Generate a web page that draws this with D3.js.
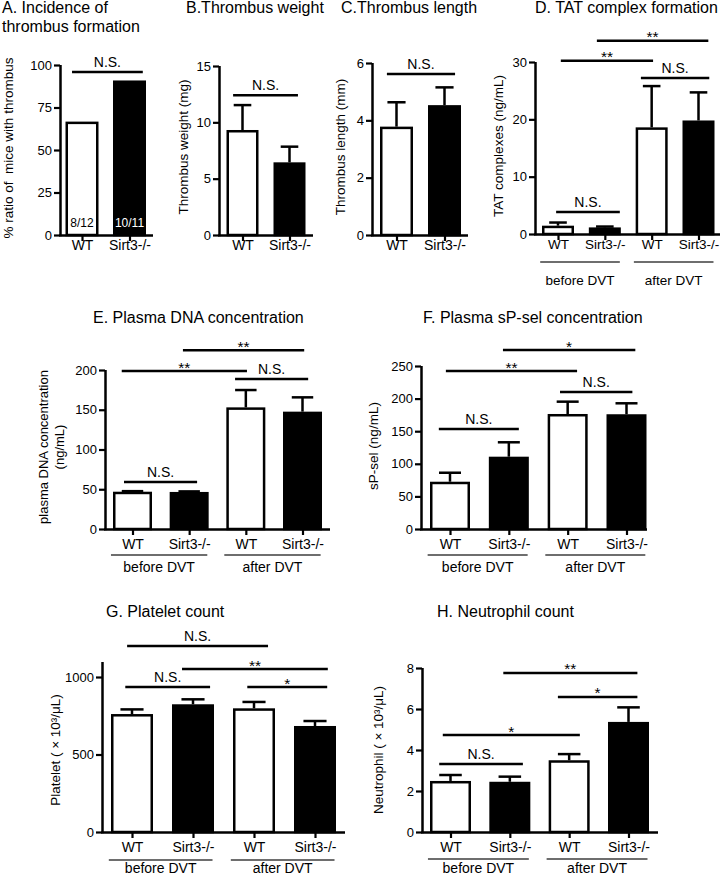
<!DOCTYPE html>
<html><head><meta charset="utf-8">
<script src="https://cdn.jsdelivr.net/npm/d3@7"></script>
<style>
body{margin:0;background:#fff}
svg{display:block}
text{font-family:"Liberation Sans",Arial,Helvetica,sans-serif;fill:#000}
</style>
</head><body>
<svg id="chart" width="721" height="875"></svg>
<script>
// ---------------- data ----------------
const catsTwo = ["WT", "Sirt3-/-"];
const catsFour = ["WT", "Sirt3-/-", "WT", "Sirt3-/-"];
const groupNames = ["before DVT", "after DVT"];

const incidence = [66.7, 90.9];
const incidenceLabels = ["8/12", "10/11"];
const weightMean = [9.32, 6.45];
const weightErr = [11.53, 7.84];
const lengthMean = [3.78, 4.53];
const lengthErr = [4.63, 5.15];
const tatMean = [1.45, 1.15, 18.6, 19.8];
const tatErr = [2.0, 1.3, 25.8, 24.7];
const dnaMean = [46.9, 46.6, 153, 147.6];
const dnaErr = [47.6, 47.3, 174.8, 165.6];
const pselMean = [72.5, 110.9, 176.4, 176];
const pselErr = [86.3, 133, 195.3, 192.8];
const plateletMean = [761, 824, 798, 684];
const plateletErr = [791, 856, 839, 716];
const neutroMean = [2.49, 2.45, 3.50, 5.37];
const neutroErr = [2.78, 2.70, 3.80, 6.08];

// significance brackets: [from category index, to category index, height (data units), label]
const sigA = [[-0.21, 1.28, 95.9, "N.S."]];
const sigB = [[-0.2, 1.18, 12.4, "N.S."]];
const sigC = [[-0.2, 1.22, 5.62, "N.S."]];
const sigD = [[0.83, 3.21, 33.7, "**"], [0.06, 2.03, 30.2, "**"], [1.77, 3.23, 27.2, "N.S."], [-0.04, 1.32, 3.84, "N.S."]];
const sigE = [[0.89, 3.03, 225, "**"], [-0.19, 2.02, 198.7, "**"], [1.81, 3.1, 188.7, "N.S."], [-0.15, 1.14, 59.1, "N.S."]];
const sigF = [[0.9, 3.15, 274.5, "*"], [-0.07, 2.16, 242.3, "**"], [1.87, 3.1, 210, "N.S."], [-0.19, 1.17, 153.4, "N.S."]];
const sigG = [[-0.08, 2.23, 1200, "N.S."], [0.82, 3.21, 1051.6, "**"], [-0.11, 1.28, 935.5, "N.S."], [1.89, 3.2, 935.5, "*"]];
const sigH = [[0.89, 3.15, 7.76, "**"], [1.81, 3.15, 6.59, "*"], [-0.13, 2.18, 4.73, "*"], [-0.19, 1.22, 3.32, "N.S."]];

const ticksA = [0, 25, 50, 75, 100];
const ticksB = [0, 5, 10, 15];
const ticksC = [0, 2, 4, 6];
const ticksD = [0, 10, 20, 30];
const ticksE = [0, 50, 100, 150, 200];
const ticksF = [0, 50, 100, 150, 200, 250];
const ticksG = [0, 500, 1000];
const ticksH = [0, 2, 4, 6, 8];

// ---------------- drawing ----------------
const svg = d3.select("#chart");
const FONT = '"Liberation Sans",Arial,Helvetica,sans-serif';
const SW = 2.5;

function panel(L, D) {
  const g = svg.append("g");
  const n = D.cats.length;
  const y = d3.scaleLinear().domain([0, L.yMax]).range([L.y0, L.yTop]);
  const x = d3.scaleLinear().domain([0, n - 1]).range([L.c0, L.cN]);
  const w = L.barW;

  // bars
  g.selectAll("rect.bar").data(D.mean).join("rect")
    .attr("x", (d, i) => x(i) - w / 2 + SW / 2)
    .attr("y", d => y(d) + SW / 2)
    .attr("width", w - SW)
    .attr("height", d => Math.max(0, y(0) - y(d) - SW / 2))
    .attr("fill", (d, i) => i % 2 ? "#000" : "#fff")
    .attr("stroke", "#000").attr("stroke-width", SW);

  // error bars (upper only)
  if (D.err) {
    const cw = w * 0.55;
    g.selectAll("line.ev").data(D.err).join("line")
      .attr("x1", (d, i) => x(i)).attr("x2", (d, i) => x(i))
      .attr("y1", (d, i) => y(D.mean[i])).attr("y2", d => y(d))
      .attr("stroke", "#000").attr("stroke-width", SW);
    g.selectAll("line.ec").data(D.err).join("line")
      .attr("x1", (d, i) => x(i) - cw / 2).attr("x2", (d, i) => x(i) + cw / 2)
      .attr("y1", d => y(d)).attr("y2", d => y(d))
      .attr("stroke", "#000").attr("stroke-width", SW);
  }

  // y axis
  const ya = g.append("g").attr("transform", `translate(${L.axisX},0)`)
    .call(d3.axisLeft(y).tickValues(D.ticks).tickSize(6).tickSizeOuter(0).tickPadding(2).tickFormat(d3.format("d")));
  ya.attr("font-family", FONT).attr("font-size", L.tickFont);
  ya.select(".domain").attr("stroke-width", SW).attr("d", `M0.5,${L.y0 + SW / 2}V${L.yTop}`);
  ya.selectAll(".tick line").attr("stroke-width", 2.2);
  ya.selectAll(".tick text").attr("fill", "#000");

  // x axis
  const xa = g.append("g").attr("transform", `translate(0,${L.y0})`)
    .call(d3.axisBottom(x).tickValues(d3.range(n)).tickSize(6).tickSizeOuter(0).tickFormat(i => D.cats[i]));
  xa.attr("font-family", FONT).attr("font-size", L.catFont);
  xa.select(".domain").attr("stroke-width", SW).attr("d", `M${L.axisX - 0.75},0.5H${L.xEnd}`);
  xa.selectAll(".tick line").attr("stroke-width", 2.2);
  xa.selectAll(".tick text").attr("y", L.catDy).attr("dy", 0).attr("fill", "#000");

  // group underlines and labels
  if (L.groupY) {
    const gr = g.selectAll("g.grp").data(groupNames).join("g");
    gr.append("line")
      .attr("x1", (d, k) => x(2 * k - 0.38)).attr("x2", (d, k) => x(2 * k + 1.32))
      .attr("y1", L.ulY).attr("y2", L.ulY)
      .attr("stroke", "#6e6e6e").attr("stroke-width", 2);
    gr.append("text")
      .attr("x", (d, k) => x(2 * k + 0.47)).attr("y", L.groupY)
      .attr("text-anchor", "middle").attr("font-size", L.catFont)
      .text(d => d);
  }

  // bar inner labels
  if (D.inner) {
    g.selectAll("text.inner").data(D.inner).join("text")
      .attr("x", (d, i) => x(i)).attr("y", L.y0 - 8)
      .attr("text-anchor", "middle").attr("font-size", 12)
      .style("fill", (d, i) => i % 2 ? "#fff" : "#000")
      .text(d => d);
  }

  // significance brackets
  const sg = g.selectAll("g.sig").data(D.sig).join("g");
  sg.append("line")
    .attr("x1", d => x(d[0])).attr("x2", d => x(d[1]))
    .attr("y1", d => y(d[2])).attr("y2", d => y(d[2]))
    .attr("stroke", "#000").attr("stroke-width", SW);
  sg.append("text")
    .attr("x", d => (x(d[0]) + x(d[1])) / 2)
    .attr("y", d => y(d[2]) - (d[3] === "N.S." ? 5 : -1.5))
    .attr("text-anchor", "middle").attr("font-size", d => d[3] === "N.S." ? 14 : 15.5)
    .text(d => d[3]);

  // title
  L.title.forEach((t, k) => {
    svg.append("text").attr("x", L.titleX).attr("y", L.titleY + k * 19)
      .attr("font-size", 16).text(t);
  });

  // y label
  L.ylab.forEach((t, k) => {
    svg.append("text")
      .attr("transform", `translate(${L.ylabX[k]},${L.ylabY}) rotate(-90)`)
      .attr("text-anchor", "middle").attr("dominant-baseline", "central")
      .attr("font-size", L.ylabFont).style("white-space", "pre")
      .text(t);
  });
}

panel({axisX: 60, xEnd: 153, y0: 235, yTop: 65, yMax: 100, c0: 82, cN: 129.5, barW: 33,
       tickFont: 13, catFont: 14, catDy: 15,
       title: ["A. Incidence of", "thrombus formation"], titleX: 2, titleY: 13,
       ylab: ["% ratio of  mice with thrombus"], ylabX: [8], ylabY: 148, ylabFont: 13.5},
      {cats: catsTwo, mean: incidence, err: null, inner: incidenceLabels, ticks: ticksA, sig: sigA});

panel({axisX: 219, xEnd: 313, y0: 235, yTop: 66, yMax: 15, c0: 242.5, cN: 289.5, barW: 32,
       tickFont: 13, catFont: 14, catDy: 15,
       title: ["B.Thrombus weight"], titleX: 186, titleY: 13,
       ylab: ["Thrombus weight (mg)"], ylabX: [183], ylabY: 147, ylabFont: 13.5},
      {cats: catsTwo, mean: weightMean, err: weightErr, ticks: ticksB, sig: sigB});

panel({axisX: 372, xEnd: 468, y0: 235, yTop: 63, yMax: 6, c0: 396.5, cN: 444.5, barW: 33,
       tickFont: 13, catFont: 14, catDy: 15,
       title: ["C.Thrombus length"], titleX: 341, titleY: 13,
       ylab: ["Thrombus length (mm)"], ylabX: [340], ylabY: 147, ylabFont: 13.5},
      {cats: catsTwo, mean: lengthMean, err: lengthErr, ticks: ticksC, sig: sigC});

panel({axisX: 535, xEnd: 720, y0: 234, yTop: 62, yMax: 30, c0: 558, cN: 698.5, barW: 32,
       tickFont: 13, catFont: 13.5, catDy: 15, ulY: 262, groupY: 285,
       title: ["D. TAT complex formation"], titleX: 535, titleY: 13,
       ylab: ["TAT complexes (ng/mL)"], ylabX: [498], ylabY: 146, ylabFont: 13.5},
      {cats: catsFour, mean: tatMean, err: tatErr, ticks: ticksD, sig: sigD});

panel({axisX: 105, xEnd: 330, y0: 529, yTop: 370, yMax: 200, c0: 132.5, cN: 302.5, barW: 39,
       tickFont: 13, catFont: 14, catDy: 20, ulY: 555, groupY: 572,
       title: ["E. Plasma DNA concentration"], titleX: 93, titleY: 323,
       ylab: ["plasma DNA concentration", "(ng/mL)"], ylabX: [43, 59], ylabY: 447, ylabFont: 13},
      {cats: catsFour, mean: dnaMean, err: dnaErr, ticks: ticksE, sig: sigE});

panel({axisX: 421, xEnd: 647, y0: 529, yTop: 366, yMax: 250, c0: 450, cN: 626.5, barW: 40,
       tickFont: 13, catFont: 14, catDy: 20, ulY: 555, groupY: 572,
       title: ["F. Plasma sP-sel concentration"], titleX: 423, titleY: 323,
       ylab: ["sP-sel (ng/mL)"], ylabX: [373], ylabY: 446, ylabFont: 13.5},
      {cats: catsFour, mean: pselMean, err: pselErr, ticks: ticksF, sig: sigF});

panel({axisX: 102, xEnd: 345, y0: 832, yTop: 662, yMax: 1096.8, c0: 132, cN: 315, barW: 42,
       tickFont: 13, catFont: 14, catDy: 20, ulY: 860, groupY: 873,
       title: ["G. Platelet count"], titleX: 106, titleY: 617,
       ylab: ["Platelet ( × 10³/μL)"], ylabX: [55], ylabY: 750, ylabFont: 13.5},
      {cats: catsFour, mean: plateletMean, err: plateletErr, ticks: ticksG, sig: sigG});

panel({axisX: 422, xEnd: 658, y0: 832, yTop: 668, yMax: 8, c0: 450.5, cN: 628.5, barW: 41,
       tickFont: 13, catFont: 14, catDy: 20, ulY: 859, groupY: 873,
       title: ["H. Neutrophil count"], titleX: 437, titleY: 617,
       ylab: ["Neutrophil ( × 10³/μL)"], ylabX: [378], ylabY: 750, ylabFont: 13.5},
      {cats: catsFour, mean: neutroMean, err: neutroErr, ticks: ticksH, sig: sigH});
</script>
</body></html>
